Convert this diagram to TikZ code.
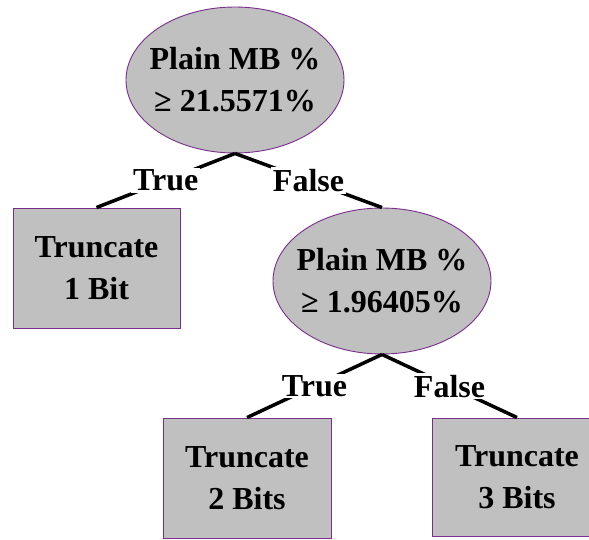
\documentclass[tikz,border=0pt]{standalone}
\usepackage{fontspec}
\setmainfont{Liberation Serif}
\usetikzlibrary{positioning,shapes.geometric}
\definecolor{nodefill}{HTML}{C0C0C0}
\definecolor{nodeedge}{HTML}{7A2E8C}
\tikzset{Tree/.style = {
		every node/.style = {font=\bfseries\fontsize{32}{42}\selectfont, align=center},
		test/.style = {ellipse, draw=nodeedge, line width=0.9pt, fill=nodefill,
			inner xsep=-10pt, inner ysep=0pt, minimum width=218pt, minimum height=146pt},
		leaf/.style = {rectangle, draw=nodeedge, line width=0.9pt, fill=nodefill,
			inner sep=0pt, minimum height=120pt},
		branch/.style = {line width=3.5pt},
		answer/.style = {fill=white, inner sep=2pt, text depth=0pt}
	}% end of Tree style
}

\begin{document}
\begin{tikzpicture}[Tree,x=1pt,y=-1pt]
  \useasboundingbox (0,0) rectangle (589,540);

  % first split
  \node[test] (T1) at (235,80) {Plain MB \%\\≥ 21.5571\%};
  \node[leaf, minimum width=167pt] (L1) at (96.5,268) {Truncate\\1 Bit};
  \node[test] (T2) at (382,281) {Plain MB \%\\≥ 1.96405\%};
  \draw[branch] (T1.south) -- node[answer] {True} (L1.north);
  \draw[branch] (T1.south) -- node[answer] {False} (T2.north);

  % second split
  \node[leaf, minimum width=168pt] (L2) at (247,478) {Truncate\\2 Bits};
  \node[leaf, minimum width=170pt, minimum height=118pt] (L3) at (517,477) {Truncate\\3 Bits};
  \draw[branch] (T2.south) -- node[answer] {True} (L2.north);
  \draw[branch] (T2.south) -- node[answer] {False} (L3.north);
\end{tikzpicture}
\end{document}
